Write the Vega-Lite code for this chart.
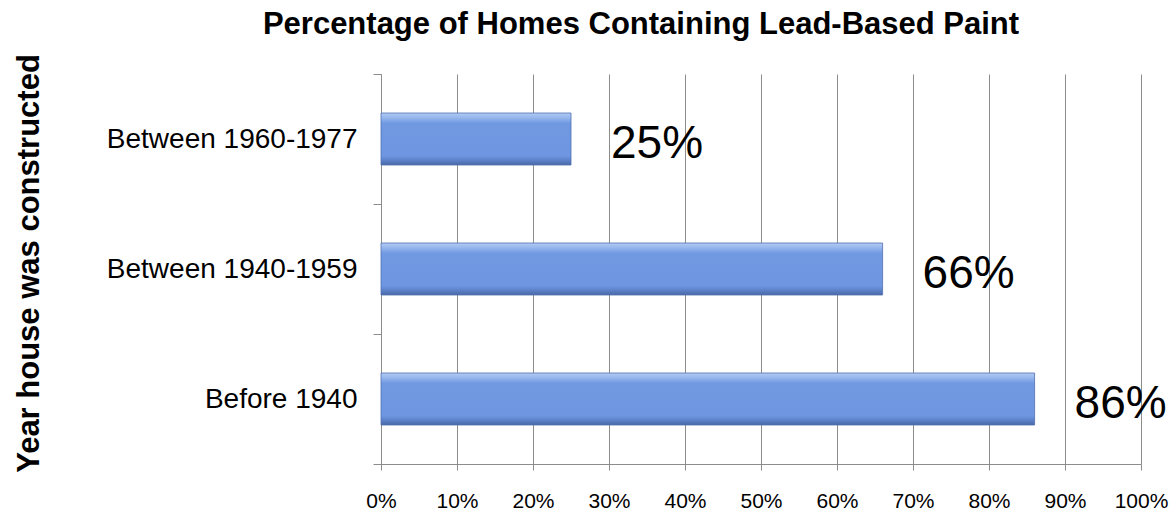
{
  "$schema": "https://vega.github.io/schema/vega-lite/v6.json",
  "width": 760,
  "height": 390,
  "autosize": {"type": "none"},
  "padding": {"left": 381, "top": 74, "right": 30, "bottom": 48},
  "background": "white",
  "title": {
    "text": "Percentage of Homes Containing Lead-Based Paint",
    "font": "Liberation Sans",
    "fontSize": 31,
    "fontWeight": "bold",
    "color": "black",
    "anchor": "middle",
    "dx": -120,
    "offset": 13,
    "baseline": "top"
  },
  "config": {"view": {"stroke": null}, "font": "Liberation Sans"},
  "data": {
    "values": [
      {"period": "Between 1960-1977", "pct": 0.25},
      {"period": "Between 1940-1959", "pct": 0.66},
      {"period": "Before 1940", "pct": 0.86}
    ]
  },
  "encoding": {
    "y": {
      "field": "period",
      "type": "nominal",
      "sort": ["Between 1960-1977", "Between 1940-1959", "Before 1940"],
      "scale": {"paddingInner": 0, "paddingOuter": 0},
      "axis": {
        "title": "Year house was constructed",
        "tickBand": "extent",
        "tickSize": 8,
        "tickColor": "#8c8c8c",
        "domainColor": "#8c8c8c",
        "labelFont": "Liberation Sans",
        "labelFontSize": 28,
        "labelColor": "black",
        "labelPadding": 16,
        "labelLimit": 400,
        "titleFont": "Liberation Sans",
        "titleFontSize": 31,
        "titleFontWeight": "bold",
        "titleColor": "black",
        "titleX": -352,
        "titleY": 189,
        "titleAngle": 270,
        "titleAlign": "center",
        "titleBaseline": "middle",
        "grid": false
      }
    },
    "x": {
      "field": "pct",
      "type": "quantitative",
      "scale": {"domain": [0, 1]},
      "axis": {
        "values": [0, 0.1, 0.2, 0.3, 0.4, 0.5, 0.6, 0.7, 0.8, 0.9, 1],
        "format": ".0%",
        "title": null,
        "grid": true,
        "gridColor": "#8c8c8c",
        "gridWidth": 1,
        "domainColor": "#8c8c8c",
        "tickColor": "#8c8c8c",
        "tickSize": 6,
        "labelFont": "Liberation Sans",
        "labelFontSize": 21,
        "labelColor": "black",
        "labelPadding": 20,
        "labelFlush": false
      }
    }
  },
  "layer": [
    {
      "mark": {
        "type": "bar",
        "height": {"band": 0.4},
        "stroke": "#4f6fae",
        "strokeWidth": 0.8,
        "color": {
          "gradient": "linear",
          "x1": 0, "y1": 0, "x2": 0, "y2": 1,
          "stops": [
            {"offset": 0, "color": "#b2cbf4"},
            {"offset": 0.1, "color": "#93b4ec"},
            {"offset": 0.2, "color": "#7099e2"},
            {"offset": 0.82, "color": "#6f97e1"},
            {"offset": 0.9, "color": "#5e84cc"},
            {"offset": 1, "color": "#4a69a6"}
          ]
        }
      }
    },
    {
      "mark": {
        "type": "text",
        "align": "left",
        "baseline": "middle",
        "dx": 40,
        "dy": 5,
        "fontSize": 46,
        "font": "Liberation Sans",
        "color": "black"
      },
      "encoding": {
        "text": {"field": "pct", "type": "quantitative", "format": ".0%"}
      }
    }
  ]
}
